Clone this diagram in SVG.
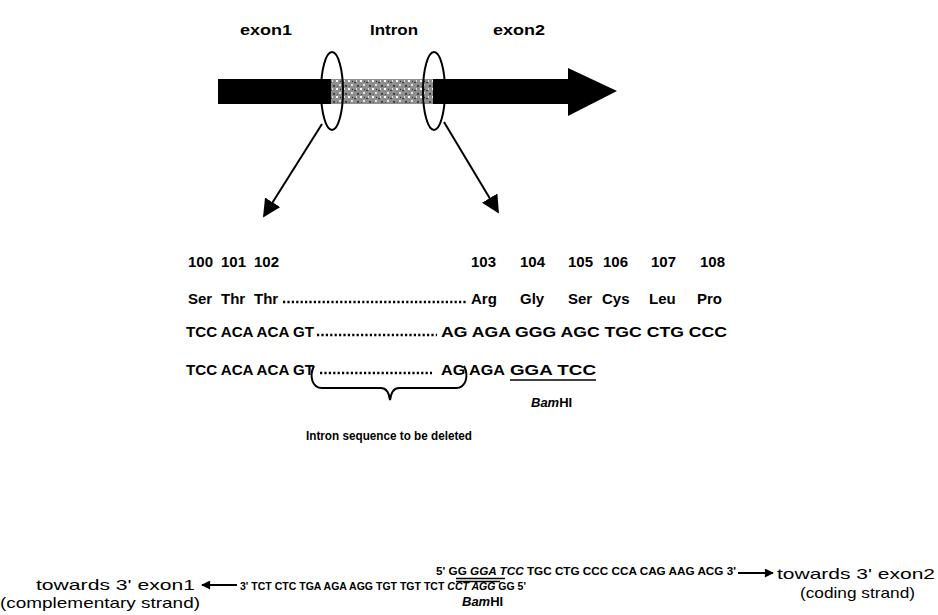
<svg xmlns="http://www.w3.org/2000/svg" width="938" height="615" viewBox="0 0 938 615">
<style>
.t{font-family:"Liberation Sans",Arial,sans-serif;font-weight:bold;fill:#000}
.lbl{font-size:15px}
.seq{font-size:15px}
.sm{font-size:10px}
.reg{font-family:"Liberation Sans",Arial,sans-serif;font-weight:normal;fill:#000;font-size:15px}
.it{font-style:italic}
.dots{stroke:#000;stroke-width:2.6;stroke-dasharray:2.2 2.2;fill:none}
.ln{stroke:#000;stroke-width:2;fill:none}
.ul{stroke:#000;stroke-width:1.4;fill:none}
</style>
<defs>
<marker id="ah" viewBox="0 0 10 10" refX="9" refY="5" markerWidth="12" markerHeight="9" markerUnits="userSpaceOnUse" orient="auto">
<path d="M0,0 L10,5 L0,10 z" fill="#000"/>
</marker>
<marker id="ahBig" viewBox="0 0 10 10" refX="9" refY="5" markerWidth="9" markerHeight="9" orient="auto">
<path d="M0,0 L10,5 L0,10 z" fill="#000"/>
</marker>
<pattern id="stip" width="12" height="8" patternUnits="userSpaceOnUse">
<rect width="12" height="8" fill="#8e8e8e"/>
<rect x="0" y="0" width="2" height="2" fill="#fff"/>
<rect x="6" y="2" width="2" height="1" fill="#333"/>
<rect x="3" y="4" width="2" height="2" fill="#e0e0e0"/>
<rect x="9" y="5" width="2" height="2" fill="#444"/>
<rect x="1" y="6" width="1" height="1" fill="#555"/>
<rect x="8" y="0" width="1" height="2" fill="#ddd"/>
<rect x="4" y="1" width="1" height="1" fill="#222"/>
</pattern>
</defs>

<g id="gene">
<path d="M218,79 L568,79 L568,68 L617,91 L568,116 L568,104 L218,104 z" fill="#000"/>
<rect x="331" y="79" width="102" height="25" fill="url(#stip)"/>
</g>
<g id="labels">
<text class="t lbl" x="240" y="35" textLength="52" lengthAdjust="spacingAndGlyphs">exon1</text>
<text class="t lbl" x="370" y="35" textLength="48" lengthAdjust="spacingAndGlyphs">Intron</text>
<text class="t lbl" x="493" y="35" textLength="52" lengthAdjust="spacingAndGlyphs">exon2</text>
</g>
<g id="circle1"><ellipse cx="332" cy="91" rx="11" ry="39" class="ln"/></g>
<g id="circle2"><ellipse cx="434" cy="91" rx="11" ry="39" class="ln"/></g>

<g id="connectors">
<line x1="322" y1="124" x2="264" y2="216" class="ln" marker-end="url(#ahBig)"/>
<line x1="444" y1="122" x2="498" y2="212" class="ln" marker-end="url(#ahBig)"/>
<line x1="738" y1="573" x2="773" y2="573" class="ln" marker-end="url(#ah)"/>
<line x1="237" y1="585" x2="202" y2="585" class="ln" marker-end="url(#ah)"/>
</g>

<g id="numbers">
<text class="t seq" y="267"><tspan x="188">100</tspan><tspan x="221">101</tspan><tspan x="254">102</tspan><tspan x="471">103</tspan><tspan x="520">104</tspan><tspan x="568">105</tspan><tspan x="603">106</tspan><tspan x="651">107</tspan><tspan x="700">108</tspan></text>
</g>
<g id="aminoacids">
<text class="t seq" y="304"><tspan x="188">Ser</tspan><tspan x="221">Thr</tspan><tspan x="254">Thr</tspan><tspan x="471">Arg</tspan><tspan x="520">Gly</tspan><tspan x="568">Ser</tspan><tspan x="602">Cys</tspan><tspan x="649">Leu</tspan><tspan x="697">Pro</tspan></text>
<line x1="283" y1="302" x2="467" y2="302" class="dots"/>
</g>
<g id="wildtype">
<text class="t seq" x="186" y="337" textLength="128" lengthAdjust="spacingAndGlyphs">TCC ACA ACA GT</text>
<line x1="317" y1="335" x2="437" y2="335" class="dots"/>
<text class="t seq" x="441" y="337" textLength="286" lengthAdjust="spacingAndGlyphs">AG AGA GGG AGC TGC CTG CCC</text>
</g>
<g id="mutant">
<text class="t seq" x="186" y="375" textLength="128" lengthAdjust="spacingAndGlyphs">TCC ACA ACA GT</text>
<line x1="320" y1="373" x2="432" y2="373" class="dots"/>
<text class="t seq" x="441" y="375" textLength="64" lengthAdjust="spacingAndGlyphs">AG AGA</text>
<text class="t seq" x="510" y="375" textLength="86" lengthAdjust="spacingAndGlyphs">GGA TCC</text>
<line x1="510" y1="380" x2="596" y2="380" class="ul"/>
<text class="t it" x="531" y="407" font-size="13">Bam<tspan font-style="normal">HI</tspan></text>
</g>
<g id="brace">
<path d="M314,366 C309,376 312,388 322,388 L381,388 C386,388 389,393 390,400 C391,393 394,388 399,388 L456,388 C466,388 469,376 464,366" class="ln"/>
<text class="t" x="389" y="440" font-size="13" text-anchor="middle" textLength="166" lengthAdjust="spacingAndGlyphs">Intron sequence to be deleted</text>
</g>

<g id="coding">
<text class="t sm" x="436" y="575" textLength="300" lengthAdjust="spacingAndGlyphs">5' GG <tspan font-style="italic">GGA TCC</tspan> TGC CTG CCC CCA CAG AAG ACG 3'</text>
<line x1="456" y1="578.5" x2="505" y2="578.5" class="ul" stroke-width="1"/>
<text class="reg" x="777" y="579" textLength="158" lengthAdjust="spacingAndGlyphs">towards 3' exon2</text>
<text class="reg" x="800" y="598" textLength="115" lengthAdjust="spacingAndGlyphs">(coding strand)</text>
</g>
<g id="complementary">
<text class="t sm" x="240" y="590" textLength="286" lengthAdjust="spacingAndGlyphs">3' TCT CTC TGA AGA AGG TGT TGT TCT <tspan font-style="italic">CCT AGG</tspan> GG 5'</text>
<line x1="456" y1="581.5" x2="500" y2="581.5" class="ul" stroke-width="1"/>
<text class="reg" x="36" y="590" textLength="159" lengthAdjust="spacingAndGlyphs">towards 3' exon1</text>
<text class="reg" x="0" y="608" textLength="200" lengthAdjust="spacingAndGlyphs">(complementary strand)</text>
<text class="t it" x="462" y="606" font-size="13">Bam<tspan font-style="normal">HI</tspan></text>
</g>
</svg>
